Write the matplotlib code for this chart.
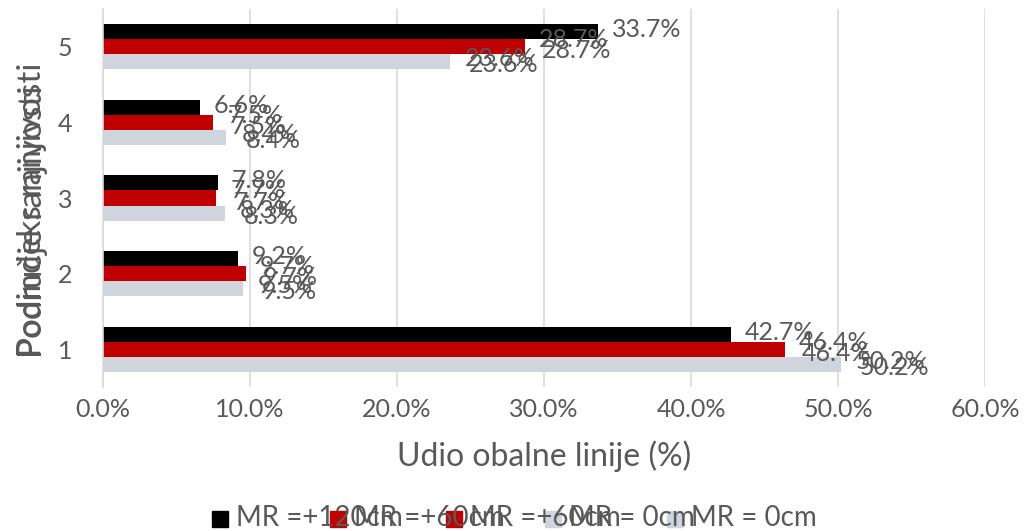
import matplotlib
matplotlib.use('Agg')
import matplotlib.pyplot as plt
from matplotlib.patches import Rectangle
import numpy as np

plt.rcParams['font.family'] = ['Lato', 'DejaVu Sans']

categories = [1, 2, 3, 4, 5]
series_names = ['MR =+120cm', 'MR =+60cm', 'MR =+60cm', 'MR = 0cm', 'MR = 0cm']
mr_120 = [42.7, 9.2, 7.8, 6.6, 33.7]
mr_60 = [46.4, 9.7, 7.7, 7.5, 28.7]
mr_60_b = [46.4, 9.7, 7.7, 7.5, 28.7]
mr_0 = [50.2, 9.5, 8.3, 8.4, 23.6]
mr_0_b = [50.2, 9.5, 8.3, 8.4, 23.6]
series_values = [mr_120, mr_60, mr_60_b, mr_0, mr_0_b]
x_ticks = [0, 10, 20, 30, 40, 50, 60]

colors = ['#000000', '#C00000', '#C00000', '#D0D5DD', '#D0D5DD']
slot = [0.2, 0.0, 0.0, -0.2, -0.2]          # vertical offset of each series in a group
label_offsets = [(14, 2), (14, 7), (17, -4), (15, 3), (19, -3)]
legend_x = [212, 330, 446, 545, 667]
text_color = '#595959'

fig = plt.figure(figsize=(10.28, 5.31), dpi=100)
ax = fig.add_axes([103 / 1028, 1 - 387 / 531, 882 / 1028, 378 / 531])

y = np.array(categories, dtype=float)
for vals, col, off in zip(series_values, colors, slot):
    ax.barh(y + off, vals, height=0.2, color=col, zorder=2)

for vals, off, (dx, dy) in zip(series_values, slot, label_offsets):
    for yi, v in zip(y, vals):
        ax.annotate(f'{v:.1f}%', xy=(v, yi + off), xytext=(dx, dy),
                    textcoords='offset pixels', ha='left', va='center',
                    fontsize=18, color=text_color, zorder=3)

ax.set_xlim(0, 60)
ax.set_ylim(0.5, 5.5)
ax.set_xticks(x_ticks)
ax.set_xticklabels([f'{t:.1f}%' for t in x_ticks], fontsize=18, color=text_color)
ax.set_yticks(categories)
ax.set_yticklabels([str(c) for c in categories], fontsize=18, color=text_color)
ax.tick_params(length=0, pad=8)
ax.tick_params(axis='y', pad=22)
ax.grid(axis='x', color='#D9D9D9', linewidth=1.2, zorder=0)
for s in ['top', 'right', 'bottom']:
    ax.spines[s].set_visible(False)
ax.spines['left'].set_color('#D9D9D9')
ax.spines['left'].set_linewidth(1.2)

ax.set_xlabel('Udio obalne linije (%)', fontsize=23, color=text_color, labelpad=14)

# two overlapping axis titles, as in the source chart
fig.text(32 / 1028, 1 - 210 / 531, 'Podindeks ranjivosti', rotation=90,
         ha='center', va='center', fontsize=24, color=text_color)
fig.text(33 / 1028, 1 - 222 / 531, 'Područje ranjivosti', rotation=90,
         ha='center', va='center', fontsize=24, color=text_color)

# legend drawn by hand, entries overlap like in the original
for lx, name, col in zip(legend_x, series_names, colors):
    fig.patches.append(Rectangle((lx / 1028, 1 - 527 / 531), 16 / 1028, 16 / 531,
                                 transform=fig.transFigure, color=col, zorder=1))
    fig.text((lx + 24) / 1028, 1 - 518 / 531, name, ha='left', va='center',
             fontsize=20, color=text_color)

fig.savefig('out.png', dpi=100)
